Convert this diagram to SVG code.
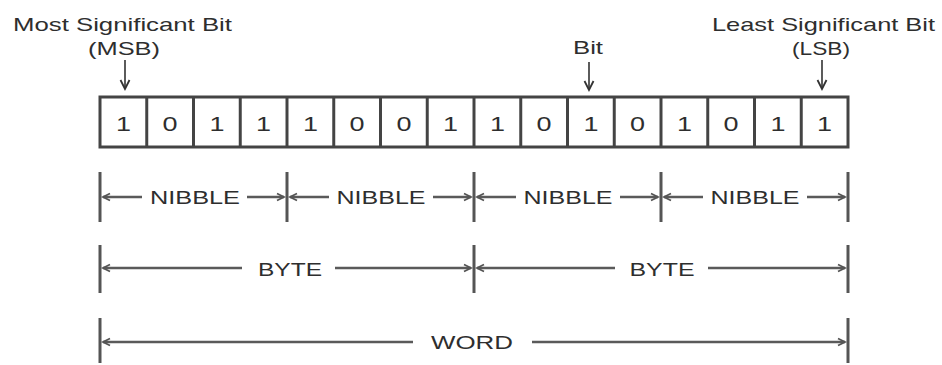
<svg xmlns="http://www.w3.org/2000/svg" width="942" height="365" viewBox="0 0 942 365">
<style>
text{font-family:"Liberation Sans",Arial,sans-serif;fill:#2e2e2e}
.lbl{font-size:19px}
.dig{font-size:20px;text-anchor:middle}
.dim{font-size:19px;text-anchor:middle}
.cell{fill:#fff;stroke:#444;stroke-width:3}
.bar{stroke:#555;stroke-width:3}
.dl{stroke:#5a5a5a;stroke-width:2.4;fill:none}
.pt{stroke:#333;stroke-width:1.6;fill:none}
</style>
<defs>
<marker id="ah" markerUnits="userSpaceOnUse" markerWidth="12" markerHeight="12" refX="9" refY="5" orient="auto-start-reverse" viewBox="0 0 12 10">
<path d="M2,1.5 L9,5 L2,8.5" fill="none" stroke="#555" stroke-width="1.8"/>
</marker>
<marker id="dh" markerUnits="userSpaceOnUse" markerWidth="12" markerHeight="12" refX="10" refY="5" orient="auto" viewBox="0 0 12 10">
<path d="M1,0.5 L10,5 L1,9.5" fill="none" stroke="#333" stroke-width="1.8"/>
</marker>
</defs>

<g id="label-msb">
<text class="lbl" x="13" y="31" textLength="219" lengthAdjust="spacingAndGlyphs">Most Significant Bit</text>
<text class="lbl" x="88" y="55" textLength="72" lengthAdjust="spacingAndGlyphs">(MSB)</text>
</g>
<g id="label-bit">
<text class="lbl" x="573" y="54" textLength="30" lengthAdjust="spacingAndGlyphs">Bit</text>
</g>
<g id="label-lsb">
<text class="lbl" x="712" y="31" textLength="223" lengthAdjust="spacingAndGlyphs">Least Significant Bit</text>
<text class="lbl" x="792" y="55" textLength="58" lengthAdjust="spacingAndGlyphs">(LSB)</text>
</g>

<g id="register">
<rect class="cell" x="100" y="97" width="748" height="50"/>
<g stroke="#444" stroke-width="3">
<line x1="146.75" y1="97" x2="146.75" y2="147"/>
<line x1="193.5" y1="97" x2="193.5" y2="147"/>
<line x1="240.25" y1="97" x2="240.25" y2="147"/>
<line x1="287" y1="97" x2="287" y2="147"/>
<line x1="333.75" y1="97" x2="333.75" y2="147"/>
<line x1="380.5" y1="97" x2="380.5" y2="147"/>
<line x1="427.25" y1="97" x2="427.25" y2="147"/>
<line x1="474" y1="97" x2="474" y2="147"/>
<line x1="520.75" y1="97" x2="520.75" y2="147"/>
<line x1="567.5" y1="97" x2="567.5" y2="147"/>
<line x1="614.25" y1="97" x2="614.25" y2="147"/>
<line x1="661" y1="97" x2="661" y2="147"/>
<line x1="707.75" y1="97" x2="707.75" y2="147"/>
<line x1="754.5" y1="97" x2="754.5" y2="147"/>
<line x1="801.25" y1="97" x2="801.25" y2="147"/>
</g>
<g class="digits">
<text class="dig" x="123.4" y="131" textLength="15" lengthAdjust="spacingAndGlyphs">1</text>
<text class="dig" x="170.1" y="131" textLength="15" lengthAdjust="spacingAndGlyphs">0</text>
<text class="dig" x="216.9" y="131" textLength="15" lengthAdjust="spacingAndGlyphs">1</text>
<text class="dig" x="263.6" y="131" textLength="15" lengthAdjust="spacingAndGlyphs">1</text>
<text class="dig" x="310.4" y="131" textLength="15" lengthAdjust="spacingAndGlyphs">1</text>
<text class="dig" x="357.1" y="131" textLength="15" lengthAdjust="spacingAndGlyphs">0</text>
<text class="dig" x="403.9" y="131" textLength="15" lengthAdjust="spacingAndGlyphs">0</text>
<text class="dig" x="450.6" y="131" textLength="15" lengthAdjust="spacingAndGlyphs">1</text>
<text class="dig" x="497.4" y="131" textLength="15" lengthAdjust="spacingAndGlyphs">1</text>
<text class="dig" x="544.1" y="131" textLength="15" lengthAdjust="spacingAndGlyphs">0</text>
<text class="dig" x="590.9" y="131" textLength="15" lengthAdjust="spacingAndGlyphs">1</text>
<text class="dig" x="637.6" y="131" textLength="15" lengthAdjust="spacingAndGlyphs">0</text>
<text class="dig" x="684.4" y="131" textLength="15" lengthAdjust="spacingAndGlyphs">1</text>
<text class="dig" x="731.1" y="131" textLength="15" lengthAdjust="spacingAndGlyphs">0</text>
<text class="dig" x="777.9" y="131" textLength="15" lengthAdjust="spacingAndGlyphs">1</text>
<text class="dig" x="824.6" y="131" textLength="15" lengthAdjust="spacingAndGlyphs">1</text>
</g>
</g>

<g id="dim-labels">
<text class="dim" x="195" y="204" textLength="90" lengthAdjust="spacingAndGlyphs">NIBBLE</text>
<text class="dim" x="381" y="204" textLength="89" lengthAdjust="spacingAndGlyphs">NIBBLE</text>
<text class="dim" x="568" y="204" textLength="89" lengthAdjust="spacingAndGlyphs">NIBBLE</text>
<text class="dim" x="755" y="204" textLength="89" lengthAdjust="spacingAndGlyphs">NIBBLE</text>
<text class="dim" x="290" y="276" textLength="64" lengthAdjust="spacingAndGlyphs">BYTE</text>
<text class="dim" x="662" y="276" textLength="65" lengthAdjust="spacingAndGlyphs">BYTE</text>
<text class="dim" x="472" y="349" textLength="82" lengthAdjust="spacingAndGlyphs">WORD</text>
</g>

<g id="connectors">
<line class="pt" x1="125" y1="60" x2="125" y2="89" marker-end="url(#dh)"/>
<line class="pt" x1="589" y1="62" x2="589" y2="90" marker-end="url(#dh)"/>
<line class="pt" x1="822" y1="60" x2="822" y2="89" marker-end="url(#dh)"/>

<g class="bar">
<line x1="100" y1="172" x2="100" y2="222"/>
<line x1="287" y1="172" x2="287" y2="222"/>
<line x1="474" y1="172" x2="474" y2="222"/>
<line x1="661" y1="172" x2="661" y2="222"/>
<line x1="848" y1="172" x2="848" y2="222"/>
<line x1="100" y1="245" x2="100" y2="293"/>
<line x1="474" y1="245" x2="474" y2="293"/>
<line x1="848" y1="245" x2="848" y2="293"/>
<line x1="100" y1="318" x2="100" y2="363"/>
<line x1="848" y1="318" x2="848" y2="363"/>
</g>

<g class="dl">
<line x1="142" y1="197" x2="103" y2="197" marker-end="url(#ah)"/>
<line x1="247" y1="197" x2="284" y2="197" marker-end="url(#ah)"/>
<line x1="329" y1="197" x2="290" y2="197" marker-end="url(#ah)"/>
<line x1="433" y1="197" x2="471" y2="197" marker-end="url(#ah)"/>
<line x1="516" y1="197" x2="477" y2="197" marker-end="url(#ah)"/>
<line x1="620" y1="197" x2="658" y2="197" marker-end="url(#ah)"/>
<line x1="703" y1="197" x2="664" y2="197" marker-end="url(#ah)"/>
<line x1="807" y1="197" x2="845" y2="197" marker-end="url(#ah)"/>

<line x1="242" y1="268" x2="103" y2="268" marker-end="url(#ah)"/>
<line x1="335" y1="268" x2="471" y2="268" marker-end="url(#ah)"/>
<line x1="615" y1="268" x2="477" y2="268" marker-end="url(#ah)"/>
<line x1="708" y1="268" x2="845" y2="268" marker-end="url(#ah)"/>

<line x1="413" y1="342" x2="103" y2="342" marker-end="url(#ah)"/>
<line x1="532" y1="342" x2="845" y2="342" marker-end="url(#ah)"/>
</g>
</g>
</svg>
